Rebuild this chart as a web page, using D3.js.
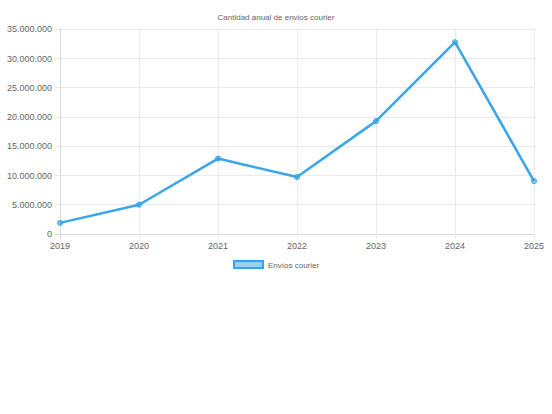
<!DOCTYPE html>
<html><head><meta charset="utf-8">
<script src="https://cdn.jsdelivr.net/npm/d3@7"></script>
<style>html,body{margin:0;padding:0;background:#fff;}svg{display:block;font-family:"Liberation Sans",Arial,sans-serif;}</style>
</head><body>
<script>
const years = ["2019","2020","2021","2022","2023","2024","2025"];
const envios = [1900000, 5000000, 12900000, 9750000, 19300000, 32800000, 9050000];
const yTicks = [0,5000000,10000000,15000000,20000000,25000000,30000000,35000000];
const title = "Cantidad anual de envios courier";
const seriesName = "Envíos courier";

const W=552,H=414;
const svg=d3.select("body").append("svg").attr("width",W).attr("height",H);
const x=d3.scalePoint().domain(years).range([60,534]);
const y=d3.scaleLinear().domain([0,35000000]).range([234,29.3]);
const fmt=v=>d3.format(",")(v).replace(/,/g,".");

// grid
svg.append("g").selectAll("line").data(yTicks).join("line")
  .attr("x1",55).attr("x2",534).attr("y1",d=>y(d)).attr("y2",d=>y(d))
  .attr("stroke",d=>d===0?"#d9d9d9":"#ebebeb").attr("stroke-width",1).attr("shape-rendering","crispEdges");
svg.append("g").selectAll("line").data(years).join("line")
  .attr("x1",d=>x(d)).attr("x2",d=>x(d)).attr("y1",29.3).attr("y2",239)
  .attr("stroke",(d,i)=>i===0?"#d9d9d9":"#ebebeb").attr("stroke-width",1).attr("shape-rendering","crispEdges");

// y labels
svg.append("g").selectAll("text").data(yTicks).join("text")
  .attr("x",52).attr("y",d=>y(d)).attr("dy","0.35em").attr("text-anchor","end")
  .attr("font-size",9).attr("fill","#666").text(fmt);
// x labels
svg.append("g").selectAll("text").data(years).join("text")
  .attr("x",d=>x(d)).attr("y",249).attr("text-anchor","middle")
  .attr("font-size",9).attr("fill","#666").text(d=>d);

// title
svg.append("text").attr("x",276).attr("y",20).attr("text-anchor","middle")
  .attr("font-size",8).attr("fill","#666").text(title);

// line
const line=d3.line().x((d,i)=>x(years[i])).y(d=>y(d));
svg.append("path").datum(envios).attr("d",line).attr("fill","none")
  .attr("stroke","#3aa5ea").attr("stroke-width",2.5).attr("stroke-linejoin","round");
svg.append("g").selectAll("circle").data(envios).join("circle")
  .attr("cx",(d,i)=>x(years[i])).attr("cy",d=>y(d)).attr("r",2.5)
  .attr("fill","rgba(54,162,235,0.6)").attr("stroke","#3aa5ea").attr("stroke-width",1);

// legend
svg.append("rect").attr("x",234).attr("y",261).attr("width",29).attr("height",7)
  .attr("fill","rgba(54,162,235,0.5)").attr("stroke","#36A2EB").attr("stroke-width",2);
svg.append("text").attr("x",268).attr("y",267.5).attr("font-size",8).attr("fill","#666").text(seriesName);
</script>
</body></html>
